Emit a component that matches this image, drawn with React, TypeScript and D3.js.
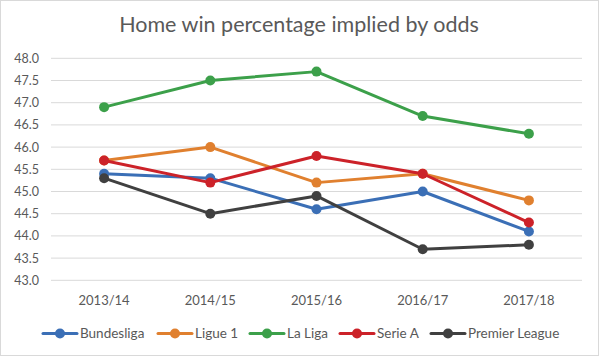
import React from "react";
import * as d3 from "d3";

const seasons = ["2013/14", "2014/15", "2015/16", "2016/17", "2017/18"];
const leagues = ["Bundesliga", "Ligue 1", "La Liga", "Serie A", "Premier League"];
const bundesliga = [45.4, 45.3, 44.6, 45.0, 44.1];
const ligue1 = [45.7, 46.0, 45.2, 45.4, 44.8];
const laLiga = [46.9, 47.5, 47.7, 46.7, 46.3];
const serieA = [45.7, 45.2, 45.8, 45.4, 44.3];
const premierLeague = [45.3, 44.5, 44.9, 43.7, 43.8];
const yTicks = [43.0, 43.5, 44.0, 44.5, 45.0, 45.5, 46.0, 46.5, 47.0, 47.5, 48.0];
const colors = ["#3b6fb6", "#e0802f", "#3ca04a", "#cc2229", "#404040"];

const seriesValues = [bundesliga, ligue1, laLiga, serieA, premierLeague];

export default function App() {
  const W = 600, H = 357;
  const left = 51, right = 582, top = 58.3, bottom = 280.3;
  const x = d3.scaleBand<string>().domain(seasons).range([left, right]);
  const y = d3.scaleLinear().domain([43, 48]).range([bottom, top]);
  const line = d3.line<number>()
    .x((_, i) => (x(seasons[i]) as number) + x.bandwidth() / 2)
    .y((d) => y(d));
  const font = "Lato, 'Open Sans', sans-serif";
  const legendItems = [
    { lineX: 43, textX: 80 },
    { lineX: 158, textX: 195 },
    { lineX: 250, textX: 287 },
    { lineX: 340, textX: 377 },
    { lineX: 431, textX: 468 },
  ];
  const ly = 333.5;
  return (
    <svg width={W} height={H} style={{ position: "absolute", left: 0, top: 0, background: "#fff" }}>
      <rect x={0.5} y={0.5} width={598} height={355} fill="#fff" stroke="#d9d9d9" />
      <text x={299} y={31.5} textAnchor="middle" fontFamily={font} fontSize={21.5} fill="#595959">
        Home win percentage implied by odds
      </text>
      {yTicks.map((t) => (
        <g key={t}>
          <line x1={left} x2={right} y1={y(t)} y2={y(t)} stroke="#d9d9d9" strokeWidth={1} />
          <text x={39} y={y(t) + 4.5} textAnchor="end" fontFamily={font} fontSize={12.5} fill="#595959">
            {t.toFixed(1)}
          </text>
        </g>
      ))}
      {seasons.map((s) => (
        <text key={s} x={(x(s) as number) + x.bandwidth() / 2} y={305} textAnchor="middle" fontFamily={font} fontSize={13} fill="#595959">
          {s}
        </text>
      ))}
      {seriesValues.map((vals, k) => (
        <g key={leagues[k]}>
          <path d={line(vals) || ""} fill="none" stroke={colors[k]} strokeWidth={3} strokeLinejoin="round" strokeLinecap="round" />
          {vals.map((v, i) => (
            <circle key={i} cx={(x(seasons[i]) as number) + x.bandwidth() / 2} cy={y(v)} r={5} fill={colors[k]} />
          ))}
        </g>
      ))}
      {leagues.map((l, k) => (
        <g key={l}>
          <line x1={legendItems[k].lineX} x2={legendItems[k].lineX + 34} y1={ly} y2={ly} stroke={colors[k]} strokeWidth={3} strokeLinecap="round" />
          <circle cx={legendItems[k].lineX + 17} cy={ly} r={5} fill={colors[k]} />
          <text x={legendItems[k].textX} y={ly + 4.7} fontFamily={font} fontSize={13.5} fill="#595959">
            {l}
          </text>
        </g>
      ))}
    </svg>
  );
}
